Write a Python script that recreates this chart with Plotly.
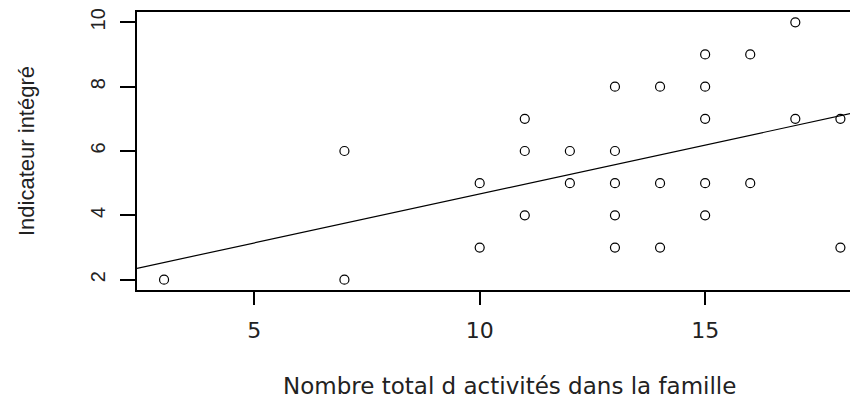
import numpy as np
import plotly.graph_objects as go

# Data
activites = [3, 7, 7, 10, 10, 11, 11, 11, 12, 12, 13, 13, 13, 13, 13,
             14, 14, 14, 15, 15, 15, 15, 15, 16, 16, 17, 17, 18, 18]
indicateur = [2, 6, 2, 5, 3, 7, 6, 4, 6, 5, 8, 6, 5, 4, 3,
              8, 5, 3, 9, 8, 7, 5, 4, 9, 5, 10, 7, 7, 3]
x_ticks = [5, 10, 15]
y_ticks = [2, 4, 6, 8, 10]
x_title = "Nombre total d activités dans la famille"
y_title = "Indicateur intégré"

x_range = [2.4, 18.39]
y_range = [1.68, 10.32]

slope, intercept = np.polyfit(activites, indicateur, 1)
line_x = np.array(x_range)
line_y = intercept + slope * line_x

fig = go.Figure()
fig.add_trace(go.Scatter(
    x=activites, y=indicateur, mode="markers",
    marker=dict(symbol="circle-open", size=9, color="black", line=dict(width=1.2, color="black")),
    showlegend=False, hoverinfo="x+y"))
fig.add_trace(go.Scatter(
    x=line_x, y=line_y, mode="lines",
    line=dict(color="black", width=1.2), showlegend=False, hoverinfo="skip"))

# The page body adds an 8 px offset, so the figure is 850x390 and margins are shifted.
fig.update_layout(
    width=850, height=390,
    margin=dict(l=129, r=0, t=4, b=108, autoexpand=False),
    paper_bgcolor="white", plot_bgcolor="white",
    xaxis=dict(
        range=x_range, tickvals=x_ticks, ticktext=[str(v) for v in x_ticks],
        automargin=False,
        showgrid=False, zeroline=False, showline=True, linecolor="black", linewidth=1.5,
        mirror=True, ticks="outside", ticklen=13, tickwidth=1.5, tickcolor="black",
        ticklabelstandoff=7,
        tickfont=dict(family="DejaVu Sans", size=22, color="#222"),
    ),
    yaxis=dict(
        range=y_range, tickvals=y_ticks, ticktext=[str(v) for v in y_ticks],
        automargin=False,
        showgrid=False, zeroline=False, showline=True, linecolor="black", linewidth=1.5,
        mirror=False, ticks="outside", ticklen=15, tickwidth=1.5, tickcolor="black",
        tickangle=-90, ticklabelstandoff=7,
        tickfont=dict(family="Liberation Sans", size=20, color="#222"),
        title=dict(text=y_title,
                   font=dict(family="Liberation Sans", size=22, color="#222"), standoff=47),
    ),
    annotations=[dict(
        text=x_title, xref="paper", yref="paper", x=0.517, y=0,
        yshift=-96, xanchor="center", yanchor="middle", showarrow=False,
        font=dict(family="DejaVu Sans", size=23, color="#222"),
    )],
)

fig.write_html("out.html")
